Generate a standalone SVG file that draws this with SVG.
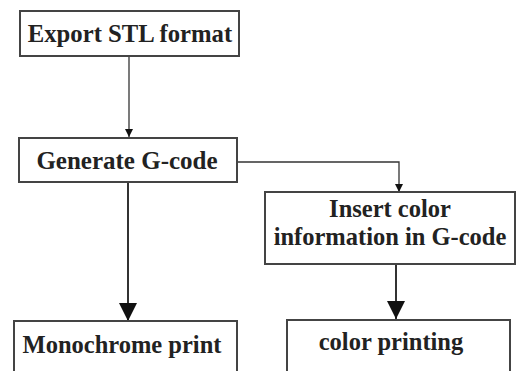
<svg xmlns="http://www.w3.org/2000/svg" width="518" height="371" viewBox="0 0 518 371">
<defs>
<marker id="sm" viewBox="0 0 10 10" refX="10" refY="5" markerWidth="8" markerHeight="10" markerUnits="userSpaceOnUse" orient="auto"><path d="M0,0 L10,5 L0,10 z" fill="#111"/></marker>
<marker id="lg" viewBox="0 0 10 10" refX="10" refY="5" markerWidth="18" markerHeight="18" markerUnits="userSpaceOnUse" orient="auto"><path d="M0,0 L10,5 L0,10 z" fill="#111"/></marker>
</defs>
<style>
.box{fill:#fff;stroke:#444;stroke-width:2}
.t{font-family:"Liberation Serif",serif;font-weight:bold;fill:#222;text-anchor:middle}
.c{fill:none;stroke:#333}
</style>
<rect width="518" height="371" fill="#fff"/>
<g id="connectors">
<path class="c" d="M129,56 V137" stroke-width="1.3" marker-end="url(#sm)"/>
<path class="c" d="M237,162 H399 V192" stroke-width="1.3" marker-end="url(#sm)"/>
<path class="c" d="M128,182 V321" stroke-width="2" marker-end="url(#lg)"/>
<path class="c" d="M396,264 V319" stroke-width="2" marker-end="url(#lg)"/>
</g>
<g id="n1"><rect class="box" x="20" y="11" width="219" height="45"/><text class="t" x="130" y="42" font-size="24.7">Export STL format</text></g>
<g id="n2"><rect class="box" x="19" y="138" width="218" height="44"/><text class="t" x="127" y="169" font-size="25">Generate G-code</text></g>
<g id="n3"><rect class="box" x="265" y="192" width="250" height="72"/><text class="t" x="390" y="217" font-size="24.5">Insert color</text><text class="t" x="390" y="245" font-size="24.5">information in G-code</text></g>
<g id="n4"><rect class="box" x="14" y="321" width="223" height="60"/><text class="t" x="122" y="353" font-size="24.5">Monochrome print</text></g>
<g id="n5"><rect class="box" x="287" y="320" width="223" height="60"/><text class="t" x="391" y="350" font-size="24.5">color printing</text></g>
</svg>
